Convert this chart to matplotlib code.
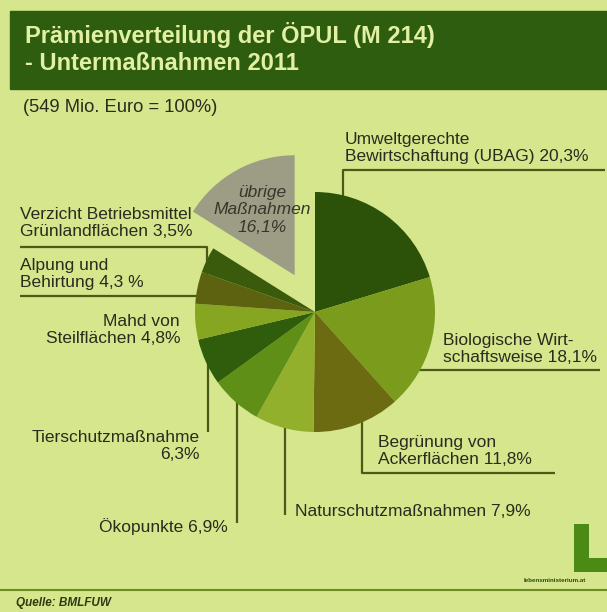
import matplotlib
matplotlib.use("Agg")
import matplotlib.pyplot as plt
from matplotlib.patches import Rectangle

plt.rcParams['font.family'] = ['Liberation Sans', 'DejaVu Sans']

# data: share of the 549 Mio. Euro, clockwise from 12 o'clock
labels = ["Umweltgerechte\nBewirtschaftung (UBAG) 20,3%",
          "Biologische Wirt-\nschaftsweise 18,1%",
          "Begrünung von\nAckerflächen 11,8%",
          "Naturschutzmaßnahmen 7,9%",
          "Ökopunkte 6,9%",
          "Tierschutzmaßnahme\n6,3%",
          "Mahd von\nSteilflächen 4,8%",
          "Alpung und\nBehirtung 4,3 %",
          "Verzicht Betriebsmittel\nGrünlandflächen 3,5%",
          "übrige\nMaßnahmen\n16,1%"]
shares = [20.3, 18.1, 11.8, 7.9, 6.9, 6.3, 4.8, 4.3, 3.5, 16.1]
colors = ["#2c5109", "#7a9b1b", "#6c6b12", "#93b02c", "#5f8f17",
          "#2f5d0c", "#86a520", "#5d6210", "#3a5b0c", "#9d9d86"]
explode = [0, 0, 0, 0, 0, 0, 0, 0, 0, 0.35]  # fraction of radius

W, H = 607, 612
R = 120
bg = "#d5e68c"
txt = "#2b2b1e"
lc = "#4b5a18"

fig = plt.figure(figsize=(W / 100, H / 100), dpi=100, facecolor=bg)
ax = fig.add_axes([0, 0, 1, 1])
ax.set_facecolor(bg)

# y axis inverted -> visual clockwise from top = data counterclockwise from -90
# pie explode is in data units, so scale by the radius
wedges, _ = ax.pie(shares, colors=colors, explode=[e * R for e in explode],
                   startangle=-90, counterclock=True, center=(315, 312),
                   radius=R, wedgeprops=dict(linewidth=0), frame=True)
for w in wedges:
    w.set_zorder(2)
ax.set_xlim(0, W)
ax.set_ylim(H, 0)
ax.set_aspect('equal')
ax.axis('off')

# title bar
ax.add_patch(Rectangle((10, 11), W - 10, 78, color="#2f5d10", zorder=0))
ax.text(25, 35, "Prämienverteilung der ÖPUL (M 214)", color="#e2f0a4",
        fontsize=17, fontweight='bold', va='center', ha='left')
ax.text(25, 64, "- Untermaßnahmen 2011", color="#e2f0a4",
        fontsize=17, fontweight='bold', va='center', ha='left')
ax.text(23, 108, "(549 Mio. Euro = 100%)", color=txt, fontsize=13.2,
        va='center', ha='left')

# leader lines (drawn behind the pie, so the pie cuts them off)
leaders = [
    [(605, 170), (343, 170), (343, 260)],
    [(600, 370), (380, 370)],
    [(555, 473), (362, 473), (362, 380)],
    [(285, 515), (285, 380)],
    [(237, 523), (237, 380)],
    [(208, 432), (208, 350)],
    [(20, 296), (240, 296)],
    [(20, 247), (207, 247), (207, 300)],
]
for pts in leaders:
    xs = [p[0] for p in pts]
    ys = [p[1] for p in pts]
    ax.plot(xs, ys, color=lc, lw=1.6, zorder=0.5, solid_capstyle='butt')

# labels
pos = [(345, 148, 'left'), (443, 349, 'left'), (378, 451, 'left'),
       (295, 512, 'left'), (228, 527, 'right'), (200, 446, 'right'),
       (180, 330, 'right'), (20, 274, 'left'), (20, 223, 'left')]
for lab, (x, y, ha) in zip(labels[:-1], pos):
    ax.text(x, y, lab, fontsize=12.5, color=txt, ha=ha, va='center',
            multialignment=ha, linespacing=1.2, zorder=3)

ax.text(262, 210, labels[-1], fontsize=12.5, color="#36362c", style='italic',
        ha='center', va='center', multialignment='center', linespacing=1.25,
        zorder=3)

# footer
ax.plot([0, W], [590, 590], color="#6f8c22", lw=1.5)
ax.text(16, 603, "Quelle: BMLFUW", fontsize=8.5, color="#2e3a12",
        style='italic', fontweight='bold', va='center', ha='left')
ax.add_patch(Rectangle((574, 524), 15, 48, color="#4c8a16", lw=0))
ax.add_patch(Rectangle((574, 558), 33, 14, color="#4c8a16", lw=0))
ax.text(555, 580, "lebensministerium.at", fontsize=4.5, color="#2e4a12",
        fontweight='bold', ha='center', va='center')

fig.savefig("out.png", dpi=100, facecolor=bg)
